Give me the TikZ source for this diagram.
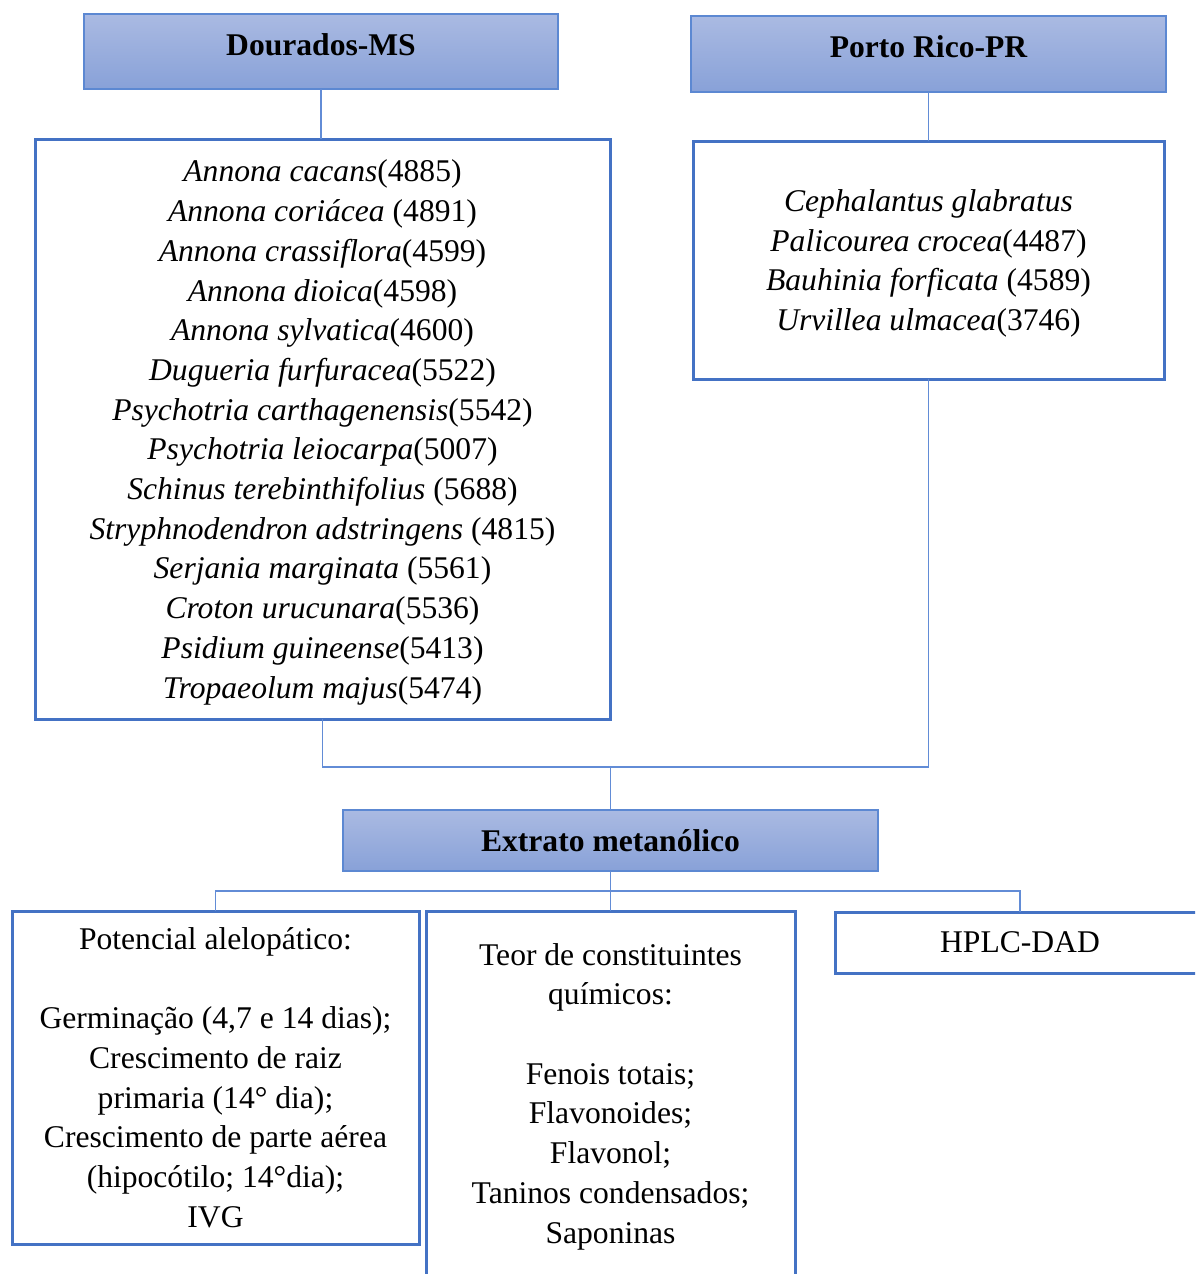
\documentclass[tikz,border=0pt]{standalone}
\usepackage{fontspec}
\setmainfont{Liberation Serif}
\usetikzlibrary{positioning}
\definecolor{HdTop}{RGB}{170,186,226}
\definecolor{HdBot}{RGB}{136,161,216}
\definecolor{HdLine}{RGB}{92,136,210}
\definecolor{BxLine}{RGB}{68,114,196}
\definecolor{LkLine}{RGB}{98,140,214}

\begin{document}
\begin{tikzpicture}[x=1pt, y=-1pt,
          every node/.style={font=\fontsize{31.6}{39.7}\selectfont,
                             align=center, inner sep=0pt, outer sep=0pt},
          hdr/.style={rectangle, draw=HdLine, line width=1.2pt,
                      top color=HdTop, bottom color=HdBot,
                      font=\fontsize{31.6}{39.7}\selectfont\bfseries},
          box/.style={rectangle, draw=BxLine, line width=3pt, fill=white},
          link/.style={draw=LkLine, line width=1.3pt}
        ]
        \useasboundingbox (0,0) rectangle (1195,1274);
        \clip (0,0) rectangle (1195,1274);

        % Sites
        \node[hdr, minimum width=474pt, minimum height=75pt, text depth=14pt]
              (dour) at (321,51.5) {Dourados-MS};
        \node[hdr, minimum width=475pt, minimum height=76pt, text depth=14pt]
              (porto) at (928.5,54) {Porto Rico-PR};

        % Species lists
        \node[box, minimum width=575pt, minimum height=580pt, text depth=0pt]
              (listMS) at (322.5,429)
              {\textit{Annona cacans}(4885)\\
               \textit{Annona coriácea} (4891)\\
               \textit{Annona crassiflora}(4599)\\
               \textit{Annona dioica}(4598)\\
               \textit{Annona sylvatica}(4600)\\
               \textit{Dugueria furfuracea}(5522)\\
               \textit{Psychotria carthagenensis}(5542)\\
               \textit{Psychotria leiocarpa}(5007)\\
               \textit{Schinus terebinthifolius} (5688)\\
               \textit{Stryphnodendron adstringens} (4815)\\
               \textit{Serjania marginata} (5561)\\
               \textit{Croton urucunara}(5536)\\
               \textit{Psidium guineense}(5413)\\
               \textit{Tropaeolum majus}(5474)};
        \node[box, minimum width=471pt, minimum height=238pt, text depth=0pt]
              (listPR) at (928.5,260)
              {\textit{Cephalantus glabratus}\\
               \textit{Palicourea crocea}(4487)\\
               \textit{Bauhinia forficata} (4589)\\
               \textit{Urvillea ulmacea}(3746)};

        % Extract
        \node[hdr, minimum width=535pt, minimum height=61pt] (extr) at (610.5,840.5)
              {Extrato metanólico};

        % Analyses
        \node[box, minimum width=407pt, minimum height=333pt] (pot) at (215.5,1077.5)
              {Potencial alelopático:\\[39.7pt]
               Germinação (4,7 e 14 dias);\\
               Crescimento de raiz\\
               primaria (14° dia);\\
               Crescimento de parte aérea\\
               (hipocótilo; 14°dia);\\
               IVG};
        \node[box, minimum width=369pt, minimum height=371pt] (teor) at (610.5,1096.5)
              {Teor de constituintes\\
               químicos:\\[39.7pt]
               Fenois totais;\\
               Flavonoides;\\
               Flavonol;\\
               Taninos condensados;\\
               Saponinas};
        \node[box, minimum width=370pt, minimum height=61pt] (hplc) at (1020,942.5)
              {HPLC-DAD};

        % Connectors
        \coordinate (jn) at (610.5,767);
        \coordinate (jb) at (610.5,891);
        \draw[link] (dour.south) -- (dour.south |- listMS.north);
        \draw[link] (porto.south) -- (porto.south |- listPR.north);
        \draw[link] (listMS.south) |- (jn) -| (listPR.south);
        \draw[link] (jn) -- (extr.north);
        \draw[link] (extr.south) -- (teor.north);
        \draw[link] (jb) -| (pot.north);
        \draw[link] (jb) -| (hplc.north);
      \end{tikzpicture}
\end{document}
